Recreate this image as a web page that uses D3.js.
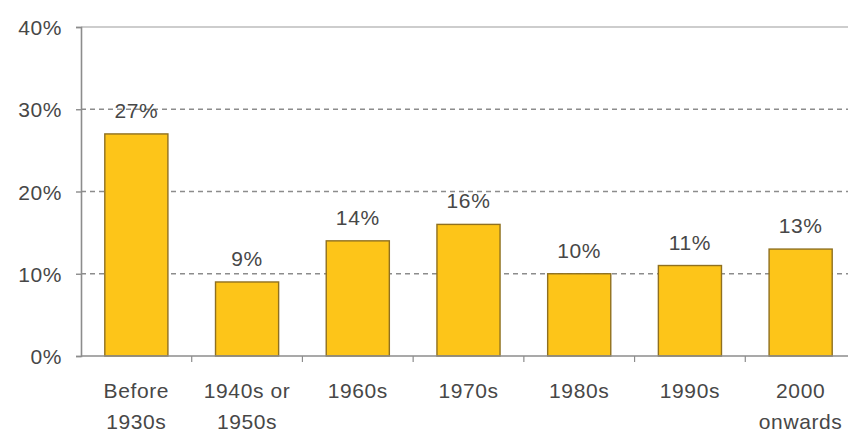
<!DOCTYPE html>
<html>
<head>
<meta charset="utf-8">
<script src="https://cdn.jsdelivr.net/npm/d3@7"></script>
<style>
  html, body { margin: 0; padding: 0; background: #fff; overflow: hidden; }
  svg { display: block; font-family: "Liberation Sans", Arial, sans-serif; }
  svg text { letter-spacing: 0.6px; }
</style>
</head>
<body>
<svg id="chart" width="848" height="432"></svg>
<script>
// Share of dwellings by construction period
const categories = [["Before", "1930s"], ["1940s or", "1950s"], ["1960s"], ["1970s"], ["1980s"], ["1990s"], ["2000", "onwards"]];
const shares = [27, 9, 14, 16, 10, 11, 13];
const yTicks = [0, 10, 20, 30, 40];

const svg = d3.select("#chart");
const plotLeft = 81, plotTop = 27, plotBottom = 356, plotRight = 856;
const textColor = "#474747";
const fontSize = "21px";

const x = d3.scaleBand()
  .domain(d3.range(categories.length))
  .range([plotLeft, plotRight])
  .paddingInner(0.43)
  .paddingOuter(0.215);

const y = d3.scaleLinear().domain([0, 40]).range([plotBottom, plotTop]);

// Gridlines: dashed at intermediate ticks, solid at the top
svg.append("g")
  .selectAll("line")
  .data(yTicks.filter(t => t > 0))
  .join("line")
  .attr("x1", plotLeft).attr("x2", 848)
  .attr("y1", d => y(d)).attr("y2", d => y(d))
  .attr("stroke", d => d === 40 ? "#bdbdbd" : "#8c8c8c")
  .attr("stroke-width", d => d === 40 ? 1.5 : 1.3)
  .attr("stroke-dasharray", d => d === 40 ? null : "5,4");

// Y axis
const yAxis = svg.append("g")
  .attr("transform", `translate(${plotLeft},0)`)
  .call(d3.axisLeft(y).tickValues(yTicks).tickSize(5).tickPadding(14).tickFormat(d => d + "%"));
yAxis.select(".domain").attr("stroke", "#8c8c8c").attr("stroke-width", 1.6);
yAxis.selectAll(".tick line").attr("stroke", "#8c8c8c").attr("stroke-width", 1.4);
yAxis.selectAll(".tick text")
  .attr("fill", textColor).style("font-size", fontSize).attr("dy", "0.36em");

// Bars
svg.append("g")
  .selectAll("rect")
  .data(shares)
  .join("rect")
  .attr("x", (d, i) => x(i))
  .attr("width", x.bandwidth())
  .attr("y", d => y(d))
  .attr("height", d => y(0) - y(d))
  .attr("fill", "#FDC519")
  .attr("stroke", "#8f7020")
  .attr("stroke-width", 1.4);

// X axis baseline and category separator ticks
svg.append("line")
  .attr("x1", plotLeft).attr("x2", 848)
  .attr("y1", plotBottom).attr("y2", plotBottom)
  .attr("stroke", "#8c8c8c").attr("stroke-width", 1.6);

const step = x.step();
svg.append("g")
  .selectAll("line")
  .data(d3.range(1, categories.length))
  .join("line")
  .attr("x1", i => plotLeft + i * step).attr("x2", i => plotLeft + i * step)
  .attr("y1", plotBottom).attr("y2", plotBottom + 6)
  .attr("stroke", "#8c8c8c").attr("stroke-width", 1.2);

// Category labels
svg.append("g")
  .selectAll("text")
  .data(categories)
  .join("text")
  .attr("x", (d, i) => x(i) + x.bandwidth() / 2)
  .attr("y", 398)
  .attr("text-anchor", "middle")
  .attr("fill", textColor)
  .style("font-size", fontSize)
  .each(function(lines) {
    const cx = d3.select(this).attr("x");
    d3.select(this).selectAll("tspan")
      .data(lines)
      .join("tspan")
      .attr("x", cx)
      .attr("dy", (d, j) => j === 0 ? 0 : 31)
      .text(d => d);
  });

// Value labels
svg.append("g")
  .selectAll("text")
  .data(shares)
  .join("text")
  .attr("x", (d, i) => x(i) + x.bandwidth() / 2)
  .attr("y", d => y(d) - 16)
  .attr("text-anchor", "middle")
  .attr("fill", textColor)
  .style("font-size", fontSize)
  .text(d => d + "%");
</script>
</body>
</html>
